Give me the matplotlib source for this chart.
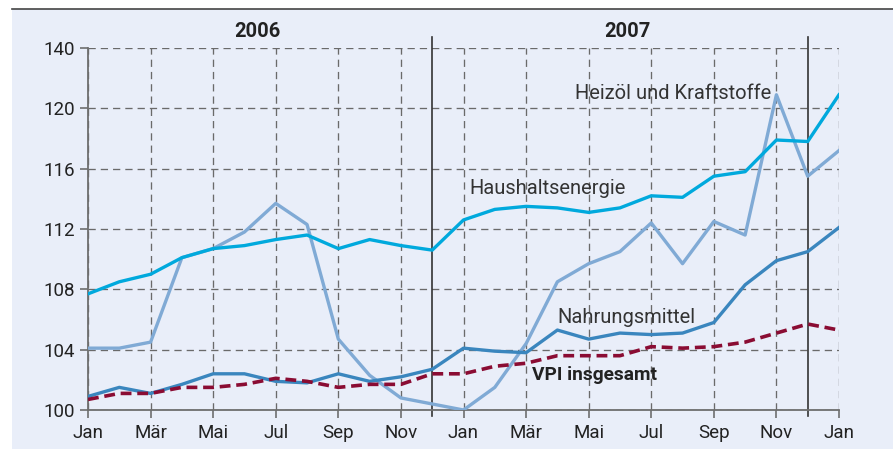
import numpy as np
import matplotlib
matplotlib.use('Agg')
from matplotlib import pyplot as plt
from matplotlib.patches import Rectangle
from matplotlib.lines import Line2D

plt.rcParams['font.family'] = ['Roboto', 'DejaVu Sans']

# Monate Jan 2006 bis Jan 2008
months = np.arange(25)
tick_labels = ['Jan', 'Mär', 'Mai', 'Jul', 'Sep', 'Nov'] * 2 + ['Jan']
years = ['2006', '2007']

haushaltsenergie = [107.7, 108.5, 109.0, 110.1, 110.7, 110.9, 111.3, 111.6, 110.7, 111.3, 110.9, 110.6,
                    112.6, 113.3, 113.5, 113.4, 113.1, 113.4, 114.2, 114.1, 115.5, 115.8, 117.9, 117.8, 120.9]
heizoel = [104.1, 104.1, 104.5, 110.1, 110.7, 111.8, 113.7, 112.3, 104.7, 102.3, 100.8, 100.4,
           100.0, 101.5, 104.4, 108.5, 109.7, 110.5, 112.4, 109.7, 112.5, 111.6, 120.9, 115.5, 117.2]
nahrungsmittel = [100.9, 101.5, 101.1, 101.7, 102.4, 102.4, 101.9, 101.8, 102.4, 101.9, 102.2, 102.7,
                  104.1, 103.9, 103.8, 105.3, 104.7, 105.1, 105.0, 105.1, 105.8, 108.3, 109.9, 110.5, 112.1]
vpi = [100.7, 101.1, 101.1, 101.5, 101.5, 101.7, 102.1, 101.9, 101.5, 101.7, 101.7, 102.4,
       102.4, 102.9, 103.1, 103.6, 103.6, 103.6, 104.2, 104.1, 104.2, 104.5, 105.1, 105.7, 105.3]

y_ticks = [100, 104, 108, 112, 116, 120, 124]
y_labels = ['100', '104', '108', '112', '116', '120', '140']

fig = plt.figure(figsize=(8.93, 4.49), dpi=100, facecolor='white')
bg = Rectangle((12 / 893, 0), 1, 1 - 9 / 449, transform=fig.transFigure,
               facecolor='#e9eef9', edgecolor='none', zorder=-10)
fig.patches.append(bg)
fig.lines.append(Line2D([12 / 893, 1], [1 - 9 / 449, 1 - 9 / 449], transform=fig.transFigure,
                        color='#444444', lw=1.2))

ax = fig.add_axes([88 / 893, 1 - 410 / 449, (839 - 88) / 893, (410 - 48) / 449])
ax.set_facecolor('none')

ax.plot(months, heizoel, color='#80aad5', lw=2.4, zorder=3)
ax.plot(months, haushaltsenergie, color='#00a9dd', lw=2.4, zorder=4)
ax.plot(months, nahrungsmittel, color='#3a86be', lw=2.4, zorder=4)
ax.plot(months, vpi, color='#8a0c33', lw=2.6, dashes=(3, 1.6), zorder=5)

ax.set_xlim(0, 24)
ax.set_ylim(100, 124)
ax.set_xticks(np.arange(0, 25, 2))
ax.set_xticklabels(tick_labels)
ax.set_yticks(y_ticks)
ax.set_yticklabels(y_labels)

ax.grid(True, color='#6a6a6a', linestyle=(0, (5.5, 3.8)), lw=0.95)
for s in ['top', 'right']:
    ax.spines[s].set_visible(False)
for s in ['left', 'bottom']:
    ax.spines[s].set_color('#6e6e6e')
    ax.spines[s].set_linewidth(1.3)
ax.tick_params(axis='both', colors='#6e6e6e', labelcolor='#222222', labelsize=13.5, length=6, width=1.2)
ax.tick_params(axis='x', pad=4)

for xv in [11, 23]:
    ax.plot([xv, xv], [99.6, 124.7], color='#333333', lw=1.2, clip_on=False, zorder=2)

ax.text(5.4, 125.1, years[0], ha='center', va='center', fontsize=14.5, fontweight='bold', color='#222222')
ax.text(17.25, 125.1, years[1], ha='center', va='center', fontsize=14.5, fontweight='bold', color='#222222')

ax.text(21.85, 121.0, 'Heizöl und Kraftstoffe', ha='right', va='center', fontsize=14.5, color='#333333')
ax.text(12.2, 114.7, 'Haushaltsenergie', ha='left', va='center', fontsize=14.5, color='#333333')
ax.text(15.0, 106.1, 'Nahrungsmittel', ha='left', va='center', fontsize=14.5, color='#333333')
ax.text(14.2, 102.3, 'VPI insgesamt', ha='left', va='center', fontsize=13.8, fontweight='bold', color='#222222')

fig.savefig('out.png', dpi=100, facecolor='white')
